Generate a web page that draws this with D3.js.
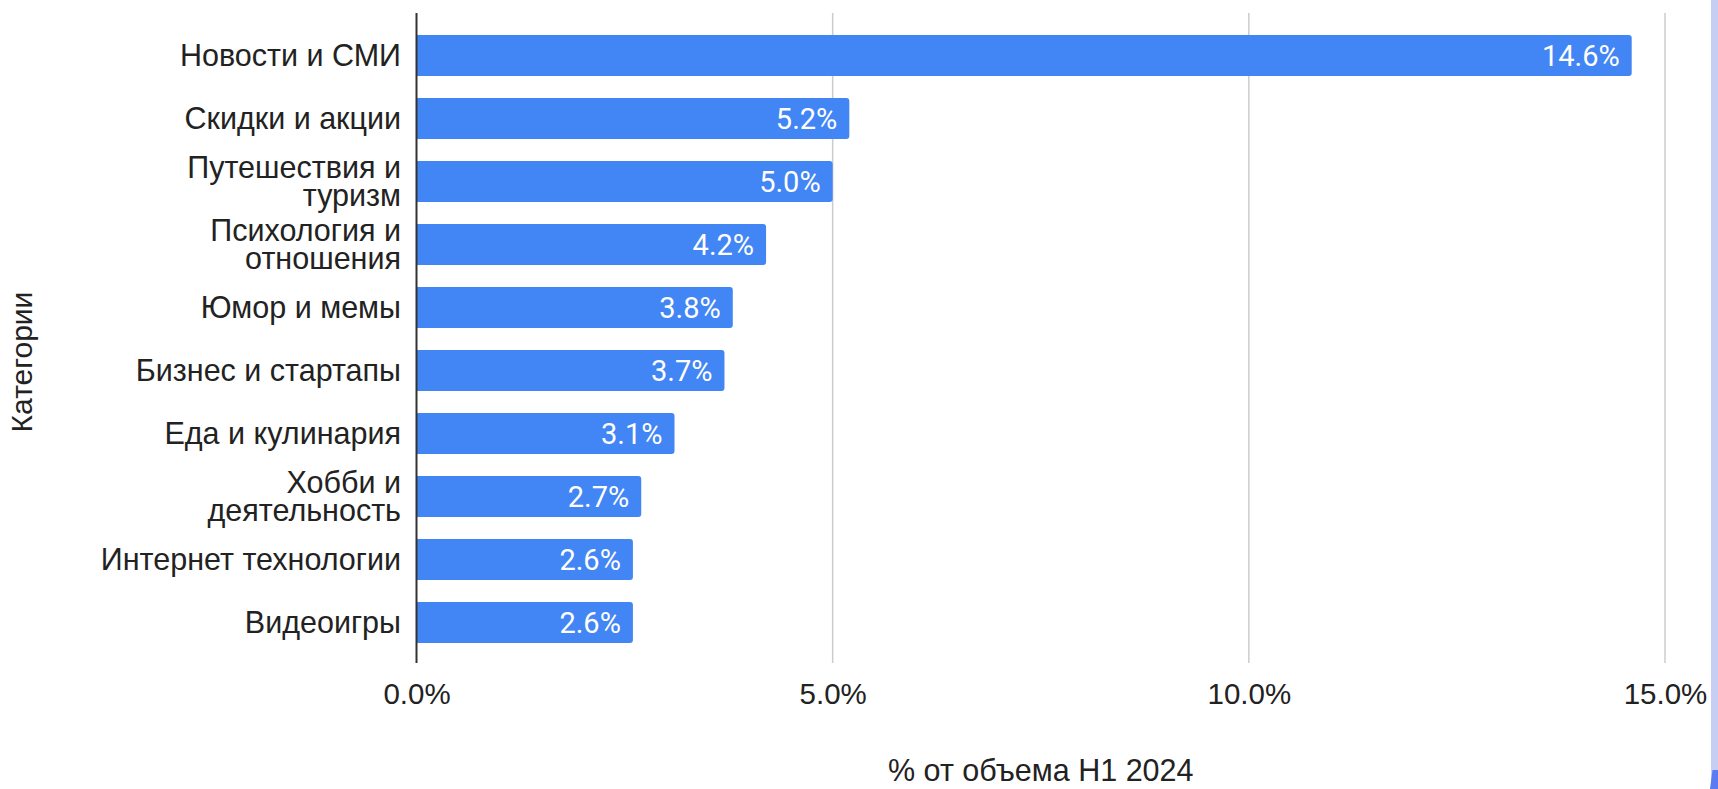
<!DOCTYPE html>
<html>
<head>
<meta charset="utf-8">
<script src="https://cdn.jsdelivr.net/npm/d3@7"></script>
<style>
  html, body { margin: 0; padding: 0; background: #fff; }
  svg { display: block; }
</style>
</head>
<body>
<svg id="chart" width="1718" height="789"></svg>
<script>
// Category names ("\n" marks where a long label wraps)
const categories = [
  "Новости и СМИ",
  "Скидки и акции",
  "Путешествия и\nтуризм",
  "Психология и\nотношения",
  "Юмор и мемы",
  "Бизнес и стартапы",
  "Еда и кулинария",
  "Хобби и\nдеятельность",
  "Интернет технологии",
  "Видеоигры"
];
// Share of H1 2024 volume, percent
const shares = [14.6, 5.2, 5.0, 4.2, 3.8, 3.7, 3.1, 2.7, 2.6, 2.6];
const xTicks = [0, 5, 10, 15];
const xTitle = "% от объема H1 2024";
const yTitle = "Категории";

const W = 1718, H = 789;
const plotTop = 13, plotBottom = 663;
const svg = d3.select("#chart");

const x = d3.scaleLinear().domain([0, 15]).range([416.5, 1665]);
const y = d3.scaleBand().domain(categories).range([24, 654]).paddingInner(0.35).paddingOuter(0.175);

const labelFont = "'Liberation Sans', Arial, sans-serif";
const valueFont = "Roboto, 'Noto Sans', sans-serif";

// decorative edge strip on the right
svg.append("rect").attr("x", 1711).attr("y", 0).attr("width", W - 1711).attr("height", H).attr("fill", "#c6cef4");
svg.append("path").attr("d", `M1712.5,770 L${W},770 L${W},${H} L1710,${H} Z`).attr("fill", "#5b7bf2");

// vertical gridlines
svg.append("g").selectAll("line").data(xTicks.filter(t => t > 0)).join("line")
  .attr("x1", d => x(d)).attr("x2", d => x(d))
  .attr("y1", plotTop).attr("y2", plotBottom)
  .attr("stroke", "#cccccc").attr("stroke-width", 1.5);

// bars with rounded right corners
const r = 3;
function barPath(v, c) {
  const x0 = x(0), x1 = x(v), y0 = y(c), h = y.bandwidth();
  return `M${x0},${y0} H${x1 - r} Q${x1},${y0} ${x1},${y0 + r} V${y0 + h - r} Q${x1},${y0 + h} ${x1 - r},${y0 + h} H${x0} Z`;
}
svg.append("g").selectAll("path").data(categories).join("path")
  .attr("d", (c, i) => barPath(shares[i], c))
  .attr("fill", "#4285f4");

// value labels inside bar ends
svg.append("g").selectAll("text").data(categories).join("text")
  .attr("x", (c, i) => x(shares[i]) - 12)
  .attr("y", c => y(c) + y.bandwidth() / 2 + 10)
  .attr("text-anchor", "end")
  .attr("font-family", valueFont).attr("font-size", 29)
  .attr("fill", "#ffffff")
  .text((c, i) => shares[i].toFixed(1) + "%");

// baseline axis
svg.append("line")
  .attr("x1", x(0)).attr("x2", x(0)).attr("y1", plotTop).attr("y2", plotBottom)
  .attr("stroke", "#333333").attr("stroke-width", 2);

// category labels
const lineH = 28.5;
const catG = svg.append("g");
categories.forEach(c => {
  const lines = c.split("\n");
  const cy = y(c) + y.bandwidth() / 2;
  const first = cy + 10.5 - (lines.length - 1) * lineH / 2;
  const t = catG.append("text")
    .attr("text-anchor", "end")
    .attr("font-family", labelFont).attr("font-size", 30.5)
    .attr("fill", "#222222");
  lines.forEach((ln, k) => {
    t.append("tspan").attr("x", 401).attr("y", first + k * lineH).text(ln);
  });
});

// x tick labels
const xAxis = d3.axisBottom(x).tickValues(xTicks).tickSize(0).tickPadding(0)
  .tickFormat(d => d.toFixed(1) + "%");
const gx = svg.append("g").attr("transform", `translate(0,${plotBottom})`).call(xAxis);
gx.select(".domain").remove();
gx.selectAll("text")
  .attr("dy", null).attr("y", 41)
  .attr("font-family", labelFont).attr("font-size", 29.5)
  .attr("fill", "#222222");

// axis titles
svg.append("text")
  .attr("x", (x(0) + x(15)) / 2).attr("y", 781)
  .attr("text-anchor", "middle")
  .attr("font-family", labelFont).attr("font-size", 30.5)
  .attr("fill", "#222222")
  .text(xTitle);

svg.append("text")
  .attr("transform", "translate(32,362) rotate(-90)")
  .attr("text-anchor", "middle")
  .attr("font-family", labelFont).attr("font-size", 30)
  .attr("fill", "#222222")
  .text(yTitle);
</script>
</body>
</html>
